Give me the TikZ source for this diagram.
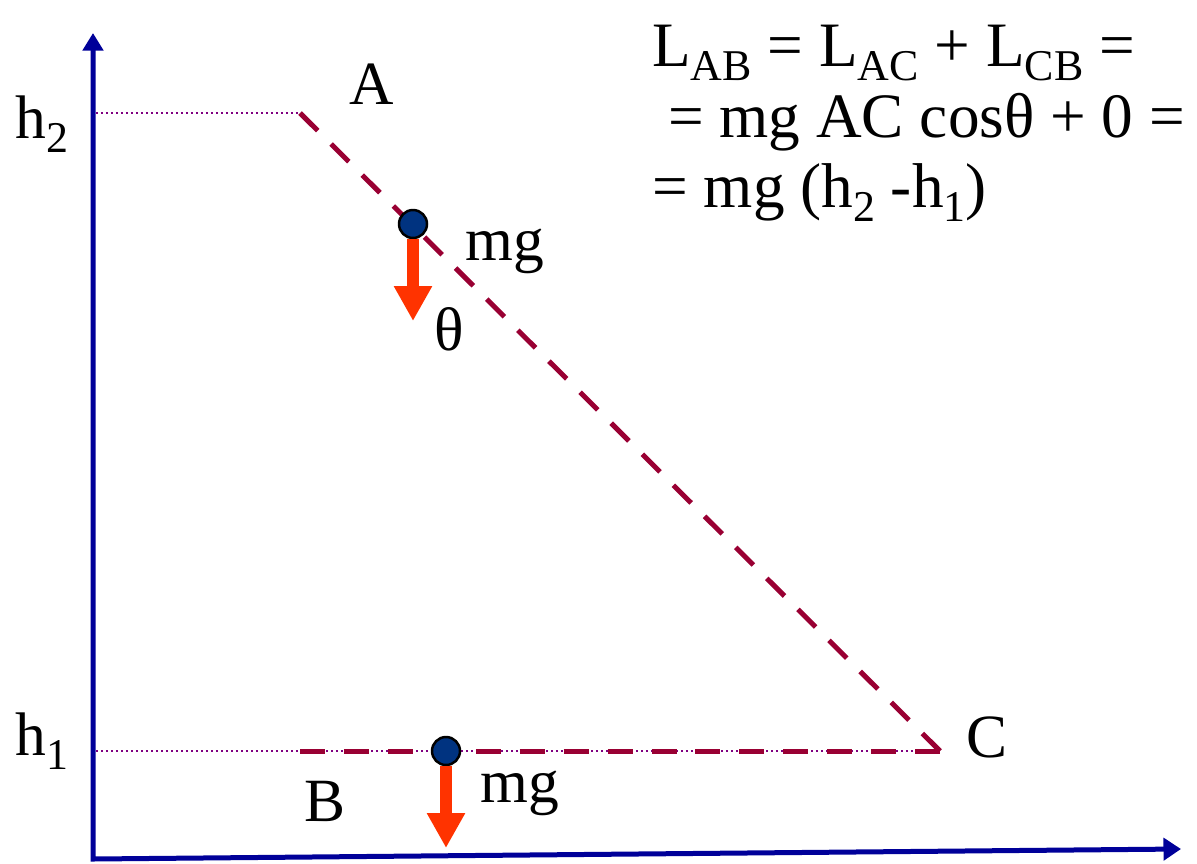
\documentclass[tikz,border=0pt]{standalone}
\usepackage{fontspec}
\setmainfont{Liberation Serif}
\usetikzlibrary{arrows.meta, positioning}

\definecolor{axisblue}{HTML}{000099}
\definecolor{pathred}{HTML}{990033}
\definecolor{guidepurple}{HTML}{800080}
\definecolor{ballblue}{HTML}{003380}
\definecolor{forcered}{HTML}{FF3300}

\newcommand{\lsub}[1]{\raisebox{-0.22em}{\fontsize{25}{25}\selectfont #1}}

\begin{document}
\begin{tikzpicture}[
    x=0.02cm, y=-0.02cm,
    every node/.style={
      inner sep=0pt,
      font=\fontsize{35}{41}\selectfont
    },
    axis/.style={draw=axisblue, line width=0.1cm,
      {Triangle[width=0.4cm,length=0.35cm]}-{Triangle[width=0.44cm,length=0.35cm]}},
    guide/.style={draw=guidepurple, line width=0.04cm,
      dash pattern=on 0.04cm off 0.06cm},
    track/.style={draw=pathred, line width=0.1cm,
      dash pattern=on 0.5cm off 0.379cm},
    ball/.style={circle, draw=black, fill=ballblue, line width=0.05cm,
      minimum size=0.56cm},
    force/.style={draw=forcered, line width=0.24cm,
      -{Triangle[width=0.72cm,length=0.7cm]}}
  ]
    \useasboundingbox (0,0) rectangle (1197,863);

    % axes
    \coordinate (O) at (93,859);
    \coordinate (ytop) at (93,33);
    \coordinate (xend) at (1181,849);
    \draw[axis] (ytop) -- (O) -- (xend);

    % points of the path
    \coordinate (A) at (300,113);
    \coordinate (B) at (300,751);
    \coordinate (C) at (940,751);
    \coordinate (h2l) at (96,113);
    \coordinate (h1l) at (96,751);

    \draw[guide] (h2l) -- (A);
    \draw[guide] (h1l) -- (C);
    \draw[track] (A) -- (C);
    \draw[track] (B) -- (C);

    % the two positions of the body
    \node[ball] (m1) at (413,224) {};
    \node[ball] (m2) at (446,751) {};
    \coordinate (tip1) at (413,321);
    \coordinate (tip2) at (446,848);
    \draw[force] (m1) -- (tip1);
    \draw[force] (m2) -- (tip2);

    % labels
    \node (lA) at (372,84) {A};
    \node (lB) at (325,801) {B};
    \node (lC) at (987,737) {C};
    \node (lh2) at (42,124) {h\lsub{2}};
    \node (lh1) at (42,741) {h\lsub{1}};
    \node (mg1) at (505,251) {mg};
    \node (th) at (449,329) {θ};
    \node (mg2) at (520,793) {mg};

    \node[anchor=north west, align=left, font=\fontsize{36}{40}\selectfont]
      (work) at (652,25)
      {L\lsub{AB} = L\lsub{AC} + L\lsub{CB} =\\
       \hspace*{0.25em}= mg AC cosθ + 0 =\\
       = mg (h\lsub{2} -h\lsub{1})};
\end{tikzpicture}
\end{document}
